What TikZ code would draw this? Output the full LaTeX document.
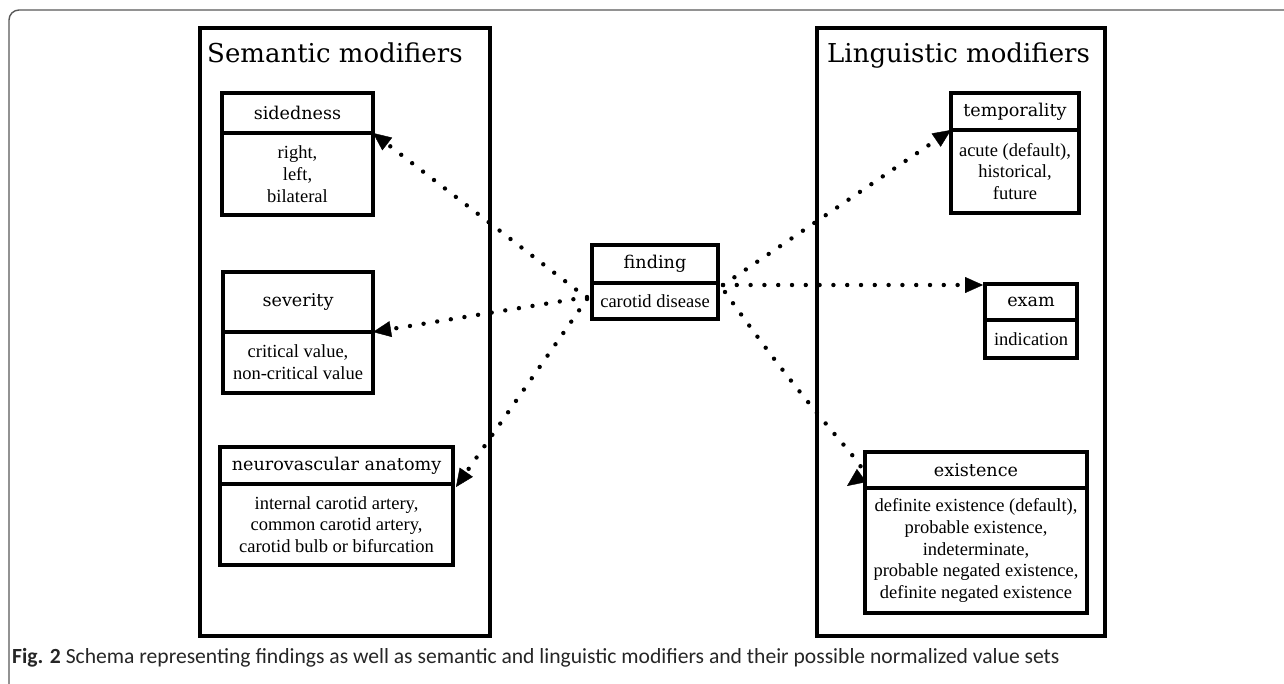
\documentclass[tikz,border=0pt]{standalone}
\usepackage{fontspec}
\setmainfont{Liberation Serif}
\newfontfamily\slabfont{DejaVu Serif}
\newfontfamily\capfont{Carlito}
\usetikzlibrary{arrows.meta}
\newcommand{\modbox}[8]{%
  \pgfmathsetmacro{\bxw}{#4-#2}\pgfmathsetmacro{\bxh}{#5-#3}%
  \pgfmathsetmacro{\bxc}{(#2+#4)/2}\pgfmathsetmacro{\bxu}{(#3+#6)/2}\pgfmathsetmacro{\bxl}{(#6+#5)/2}%
  \node[boxfr, anchor=north west, minimum width=\bxw pt, minimum height=\bxh pt] (#1) at (#2,#3) {};
  \coordinate (#1-dl) at (#2,#6);
  \coordinate (#1-dr) at (#4,#6);
  \draw[divline] (#1-dl) -- (#1-dr);
  \node[hdr] (#1-h) at (\bxc,\bxu) {#7};
  \node[vals] (#1-v) at (\bxc,\bxl) {#8};
}
\begin{document}
\begin{tikzpicture}[x=1pt,y=-1pt,
  frame/.style={draw=black!65, line width=1.4pt, rounded corners=10pt},
  panel/.style={draw, line width=3.2pt, inner sep=0pt, outer sep=0pt},
  boxfr/.style={draw, line width=4pt, inner sep=0pt, outer sep=0pt},
  divline/.style={line width=4pt},
  hdr/.style={font=\slabfont\fontsize{17.6}{21}\selectfont, inner sep=0pt},
  vals/.style={font=\fontsize{18.5}{21.7}\selectfont, align=center, inner sep=0pt},
  ttl/.style={font=\slabfont\fontsize{26}{30}\selectfont, anchor=base west, inner sep=0pt},
  conn/.style={line width=4.4pt, dash pattern=on 0pt off 13.8pt, line cap=round,
    -{Triangle[length=18pt,width=16pt,line width=0.4pt]}},
]
\useasboundingbox (0,0) rectangle (1284,683);
\clip (0,0) rectangle (1284,683);
\fill[white] (0,0) rectangle (1284,683);
\draw[frame] (9,10) rectangle (1310,694);

% panels
\node[panel, anchor=north west, minimum width=290pt, minimum height=608pt] (sem) at (200,28) {};
\node[panel, anchor=north west, minimum width=288pt, minimum height=608pt] (ling) at (817,28) {};
\node[ttl] (semt) at (207,62) {Semantic modifiers};
\node[ttl] (lingt) at (827,62) {Linguistic modifiers};

% boxes
\modbox{sid}{222}{93}{373}{215}{133}{sidedness}{right,\\left,\\bilateral}
\modbox{sev}{223}{272}{373}{393}{332}{severity}{critical value,\\non-critical value}
\modbox{neu}{220}{447}{453}{565}{484}{neurovascular anatomy}{internal carotid artery,\\common carotid artery,\\carotid bulb or bifurcation}
\modbox{find}{592}{245}{718}{319}{283}{finding}{carotid disease}
\modbox{tmp}{951}{93}{1079}{213}{130}{temporality}{acute (default),\\historical,\\future}
\modbox{exam}{985}{284}{1077}{358}{320}{exam}{indication}
\modbox{ext}{865}{452}{1087}{613}{488}{existence}{definite existence (default),\\probable existence,\\indeterminate,\\probable negated existence,\\definite negated existence}

% connectors
\draw[conn] ([shift={(-5pt,-16pt)}]find.west) -- (sid-dr);
\draw[conn] ([shift={(-5pt,-15pt)}]find.west) -- (sev-dr);
\draw[conn] ([shift={(-5pt,-17pt)}]find.west) -- ([shift={(3pt,-3pt)}]neu-dr);
\draw[conn] ([shift={(5pt,-3pt)}]find.east) -- (tmp-dl);
\draw[conn] ([shift={(5pt,-3pt)}]find.east) -- ([shift={(-2pt,-1pt)}]exam.north west);
\draw[conn] ([shift={(7pt,-10pt)}]find.east) .. controls (830,440) and (872,468) .. ([shift={(-18pt,2pt)}]ext-dl);

% caption
\node[anchor=base west, inner sep=0pt, font=\capfont\fontsize{21.6}{25}\selectfont, text=black!85] (cap) at (12,663)
  {\textbf{Fig. 2} Schema representing findings as well as semantic and linguistic modifiers and their possible normalized value sets};
\end{tikzpicture}
\end{document}
